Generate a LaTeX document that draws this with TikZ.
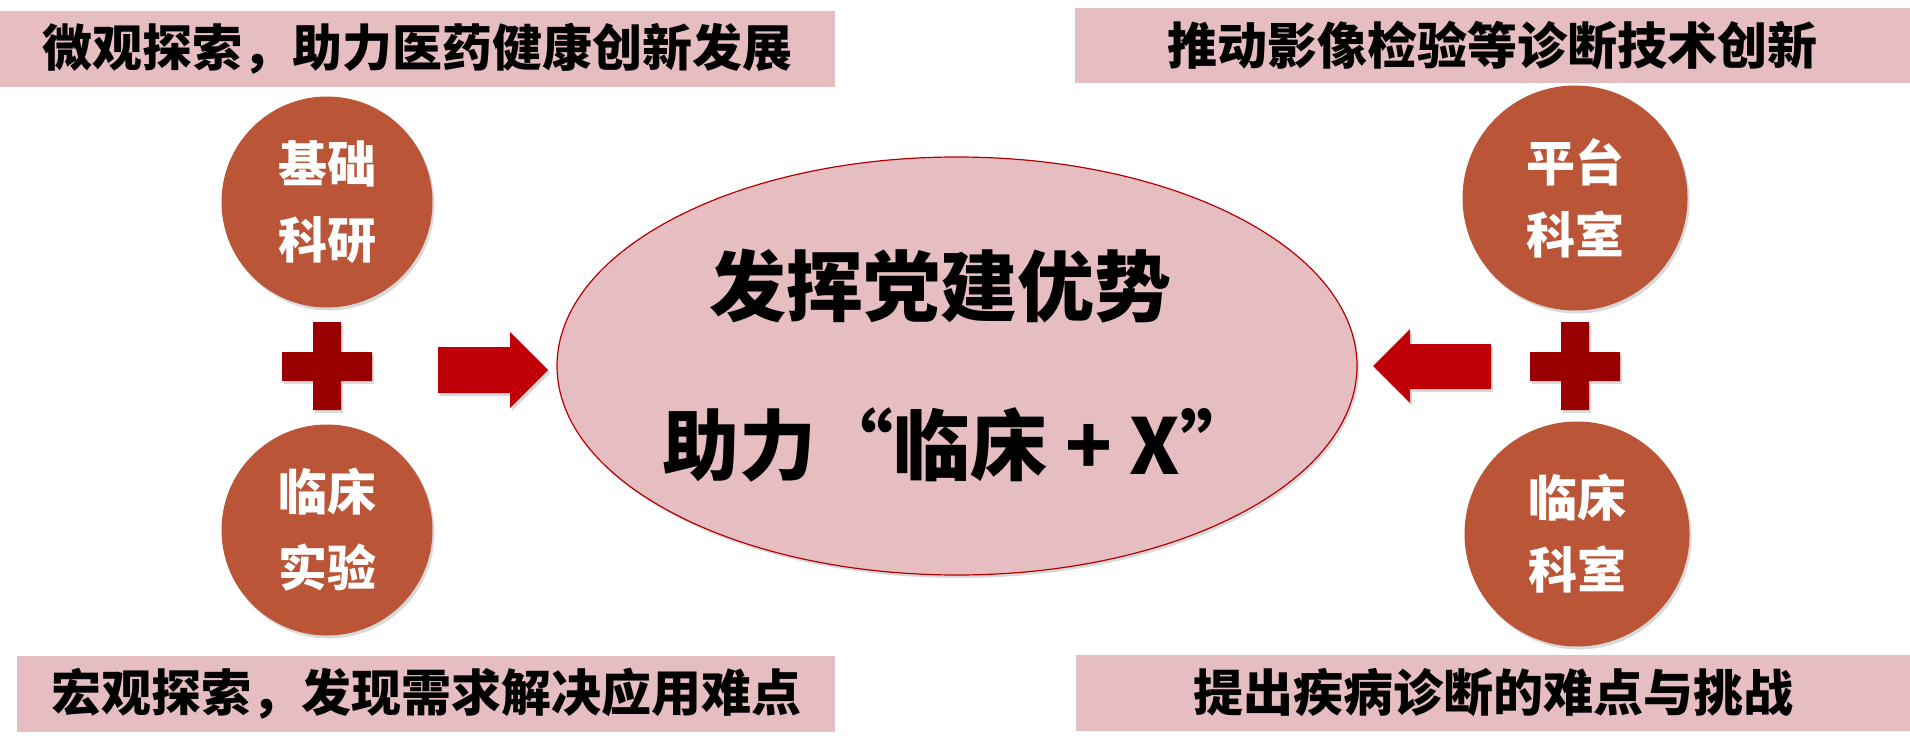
\documentclass[tikz,border=0pt]{standalone}
\usepackage{fontspec}
\newfontfamily\cjk{Noto Sans CJK SC Black}
\usepackage{tikz}
\usetikzlibrary{shapes.geometric}
\usetikzlibrary{shadows}
\definecolor{bannerpink}{RGB}{230,190,194}
\definecolor{circred}{RGB}{186,85,56}
\definecolor{plusred}{RGB}{155,0,0}
\definecolor{arrowred}{RGB}{192,0,8}
\definecolor{rimred}{RGB}{180,0,0}
\tikzstyle{softshadow}=[drop shadow={shadow xshift=2pt, shadow yshift=-3pt, opacity=.3}]
\tikzstyle{banner}=[rectangle, fill=bannerpink, inner sep=0pt, minimum height=76pt, font=\cjk\fontsize{50}{60}\selectfont]
\tikzstyle{circ}=[circle, fill=circred, text=white, align=center, inner sep=0pt, softshadow, font=\cjk\fontsize{49}{76}\selectfont]
\tikzstyle{core}=[ellipse, fill=bannerpink, draw=rimred, line width=1.2pt, minimum width=800pt, minimum height=418pt, softshadow]
\tikzstyle{coretxt}=[align=center, font=\cjk\fontsize{77}{159}\selectfont]
\tikzstyle{plus}=[fill=plusred, softshadow]
\tikzstyle{blockarrow}=[fill=arrowred, softshadow]

\begin{document}
\begin{tikzpicture}[x=1pt, y=-1pt]
	\useasboundingbox (0,0) rectangle (1910,754);
	\draw (417.5,49) node[banner, minimum width=835pt] (micro) {微观探索，助力医药健康创新发展};
	\draw (1492.5,45.5) node[banner, minimum width=835pt, minimum height=75pt] (tech) {推动影像检验等诊断技术创新};
	\draw (426,694) node[banner, minimum width=818pt] (macro) {宏观探索，发现需求解决应用难点};
	\draw (1493,693) node[banner, minimum width=834pt] (diag) {提出疾病诊断的难点与挑战};
	\draw (327,202) node[circ, minimum size=211pt] (basic) {基础\\科研};
	\draw (327,530) node[circ, minimum size=211pt] (trial) {临床\\实验};
	\draw (1575,198) node[circ, minimum size=225pt, font=\cjk\fontsize{49}{72}\selectfont] (platform) {平台\\科室};
	\draw (1577,534) node[circ, minimum size=225pt, font=\cjk\fontsize{49}{72}\selectfont] (clinic) {临床\\科室};
	\draw (957,366) node[core] (party) {};
	\draw ([xshift=-17pt]party.center) node[coretxt] (partytxt) {发挥党建优势\\\hspace*{40pt}助力“临床 + X”};
	\foreach \px in {327,1575}
		\fill[plus] (\px-14,322) rectangle (\px+14,410) (\px-45,352) rectangle (\px+45,381);
	\fill[blockarrow] (438,347) -- (510,347) -- (510,332) -- (548,370) -- (510,408) -- (510,393) -- (438,393) -- cycle;
	\fill[blockarrow] (1491,344) -- (1410,344) -- (1410,329) -- (1373,366) -- (1410,403) -- (1410,389) -- (1491,389) -- cycle;
\end{tikzpicture}
\end{document}
